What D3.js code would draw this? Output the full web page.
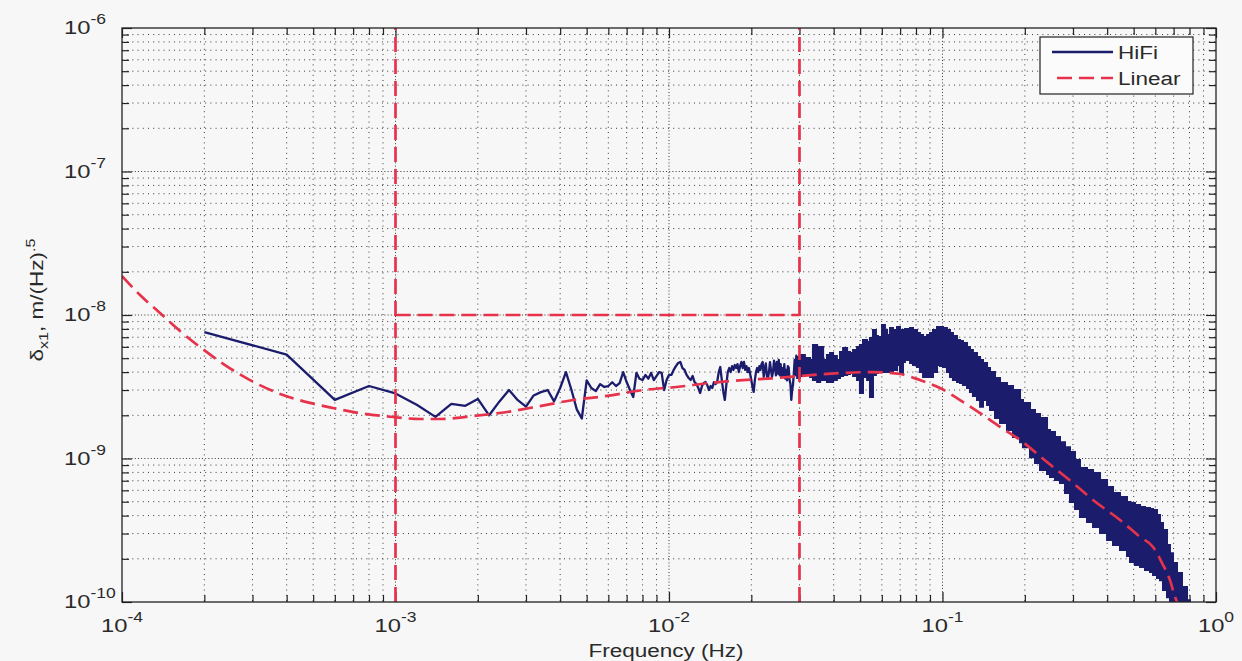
<!DOCTYPE html>
<html><head><meta charset="utf-8">
<script src="https://cdn.jsdelivr.net/npm/d3@7"></script>
<style>
body{margin:0;background:#f7f7f7;}
text{font-family:Arial,"Liberation Sans",Helvetica,sans-serif;fill:#2a2a2a;}
</style>
</head><body>
<svg id="chart" width="1242" height="661"></svg>
<script>
// ---------------- data ----------------
const xTickExponents = [-4, -3, -2, -1, 0];
const yTickExponents = [-10, -9, -8, -7, -6];
const xTitle = "Frequency (Hz)";
const seriesNames = ["HiFi", "Linear"];

// HiFi spectrum (sparse / medium-density part)
const hifiFreq = [
 0.0002,0.0004,0.0006,0.0008,0.0010,0.0012,0.0014,0.0016,0.0018,0.0020,
 0.0022,0.0024,0.0026,0.0028,0.0030,0.0032,0.0034,0.0036,0.0038,0.0040,
 0.0042,0.0044,0.0046,0.0048,0.0050,0.0052,0.0054,0.0056,0.0058,0.0060,
 0.0062,0.0064,0.0066,0.0068,0.0070,0.0072,0.0074,0.0076,0.0078,0.0080,
 0.0082,0.0084,0.0086,0.0088,0.0090,0.0092,0.0094,0.0096,0.0098,0.0100,
 0.0102,0.0104,0.0106,0.0108,0.0110,0.0112,0.0114,0.0116,0.0118,0.0120,
 0.0122,0.0124,0.0126,0.0128,0.0130,0.0132,0.0134,0.0136,0.0138,0.0140,
 0.0142,0.0144,0.0146,0.0148,0.0150,0.0152,0.0154,0.0156,0.0158,0.0160,
 0.0162,0.0164,0.0166,0.0168,0.0170,0.0172,0.0174,0.0176,0.0178,0.0180,
 0.0182,0.0184,0.0186,0.0188,0.0190,0.0192,0.0194,0.0196,0.0198,0.0200,
 0.0202,0.0204,0.0206,0.0208,0.0210,0.0212,0.0214,0.0216,0.0218,0.0220,
 0.0222,0.0224,0.0226,0.0228,0.0230,0.0232,0.0234,0.0236,0.0238,0.0240,
 0.0242,0.0244,0.0246,0.0248,0.0250,0.0252,0.0254,0.0256,0.0258,0.0260,
 0.0262,0.0264,0.0266,0.0268,0.0270,0.0272,0.0274,0.0276,0.0278,0.0280,
 0.0282,0.0284,0.0286,0.0288,0.0290,0.0292
];
const hifiValue = [
 7.6e-9,5.3e-9,2.56e-9,3.2e-9,2.84e-9,2.36e-9,1.95e-9,2.4e-9,2.33e-9,2.6e-9,
 2.0e-9,2.5e-9,3.0e-9,2.55e-9,2.3e-9,2.75e-9,2.9e-9,3.0e-9,2.5e-9,3.1e-9,
 4.0e-9,3.0e-9,2.2e-9,1.9e-9,3.5e-9,3.1e-9,2.95e-9,3.3e-9,3.15e-9,3.2e-9,
 3.4e-9,3.2e-9,3.35e-9,4.0e-9,3.41e-9,3.0e-9,2.68e-9,3.95e-9,3.6e-9,3.52e-9,
 3.82e-9,3.6e-9,3.95e-9,3.52e-9,3.75e-9,4.0e-9,3.95e-9,3.0e-9,3.52e-9,3.82e-9,
 3.82e-9,4.14e-9,4.4e-9,4.63e-9,4.71e-9,4.27e-9,4.14e-9,3.82e-9,3.64e-9,3.52e-9,
 3.76e-9,3.41e-9,3.3e-9,3.1e-9,2.86e-9,3.2e-9,3.36e-9,3.41e-9,3.25e-9,3.0e-9,
 3.2e-9,3.1e-9,3.41e-9,3.3e-9,3.41e-9,4.0e-9,4.34e-9,3.52e-9,2.91e-9,2.56e-9,
 3.25e-9,4.0e-9,4.27e-9,4.0e-9,4.4e-9,4.14e-9,4.48e-9,4.27e-9,4.55e-9,4.0e-9,
 4.4e-9,4.71e-9,4.27e-9,4.71e-9,4.14e-9,4.4e-9,4.0e-9,4.27e-9,3.88e-9,3.52e-9,
 3.15e-9,2.91e-9,3.52e-9,4.0e-9,4.27e-9,4.0e-9,4.4e-9,4.14e-9,4.55e-9,4.71e-9,
 3.7e-9,4.27e-9,4.6e-9,3.76e-9,3.6e-9,4.0e-9,4.7e-9,4.14e-9,3.7e-9,4.0e-9,
 4.8e-9,4.4e-9,3.8e-9,4.71e-9,3.9e-9,4.86e-9,3.8e-9,4.55e-9,3.7e-9,4.27e-9,
 3.8e-9,4.55e-9,3.6e-9,4.14e-9,3.5e-9,4.4e-9,4.3e-9,3.52e-9,3.3e-9,2.56e-9,
 3.0e-9,3.25e-9,3.9e-9,4.86e-9,3.8e-9,5.2e-9
];

// HiFi spectrum, dense part (too dense to resolve single points): upper / lower envelope
const bandFreq = [
 0.0294,0.0301,0.0314,0.0328,0.0336,0.0348,0.0357,0.0366,0.0378,0.0388,
 0.0398,0.0411,0.0422,0.0433,0.0448,0.0459,0.0471,0.0487,0.0499,0.0512,
 0.0530,0.0543,0.0557,0.0571,0.0581,0.0601,0.0616,0.0627,0.0643,0.0659,
 0.0682,0.0699,0.0717,0.0729,0.0761,0.0780,0.0807,0.0827,0.0849,0.0878,
 0.0900,0.0923,0.0955,0.0979,0.1004,0.1038,0.1065,0.1092,0.1130,0.1159,
 0.1188,0.1229,0.1260,0.1292,0.1337,0.1372,0.1406,0.1455,0.1492,0.1556,
 0.1623,0.1721,0.1810,0.1921,0.1969,0.2089,0.2179,0.2273,0.2411,0.2472,
 0.2578,0.2689,0.2805,0.2925,0.3051,0.3182,0.3376,0.3551,0.3767,0.3996,
 0.4202,0.4457,0.4727,0.4848,0.5055,0.5275,0.5500,0.5737,0.5886,0.6085,
 0.6240,0.6400,0.6620,0.6787,0.6962,0.7202,0.7511,0.7834,0.8035
];
const bandHigh = [
 5.10e-9,5.26e-9,5.02e-9,4.86e-9,6.18e-9,5.98e-9,5.98e-9,4.86e-9,5.26e-9,5.44e-9,
 5.18e-9,4.86e-9,5.52e-9,5.89e-9,5.52e-9,5.44e-9,5.70e-9,5.98e-9,6.18e-9,6.70e-9,
 6.48e-9,6.91e-9,7.86e-9,7.14e-9,7.03e-9,8.52e-9,7.86e-9,7.25e-9,8.12e-9,7.86e-9,
 8.25e-9,7.86e-9,7.86e-9,7.99e-9,8.12e-9,7.86e-9,7.49e-9,7.25e-9,7.03e-9,7.25e-9,
 7.49e-9,7.86e-9,8.25e-9,8.25e-9,8.12e-9,7.86e-9,7.49e-9,7.14e-9,6.70e-9,6.59e-9,
 6.38e-9,5.98e-9,5.70e-9,5.44e-9,5.10e-9,4.86e-9,4.63e-9,4.27e-9,4.0e-9,3.64e-9,
 3.36e-9,3.20e-9,3.0e-9,2.56e-9,2.44e-9,2.18e-9,2.04e-9,1.915e-9,1.58e-9,1.53e-9,
 1.41e-9,1.30e-9,1.20e-9,1.11e-9,9.76e-10,8.59e-10,8.32e-10,7.93e-10,7.08e-10,6.33e-10,
 5.75e-10,5.39e-10,4.98e-10,4.90e-10,4.74e-10,4.59e-10,4.52e-10,4.45e-10,4.38e-10,4.04e-10,
 3.55e-10,3.17e-10,2.50e-10,2.19e-10,1.87e-10,1.59e-10,1.27e-10,1.03e-10,8.8e-11
];
const bandLow = [
 3.64e-9,3.76e-9,3.88e-9,3.70e-9,3.52e-9,3.41e-9,3.52e-9,3.52e-9,3.41e-9,3.41e-9,
 3.52e-9,3.64e-9,3.76e-9,3.82e-9,3.88e-9,3.94e-9,3.76e-9,3.52e-9,2.86e-9,3.70e-9,
 3.52e-9,2.68e-9,3.82e-9,3.94e-9,4.0e-9,4.0e-9,4.0e-9,4.0e-9,4.0e-9,4.14e-9,
 4.48e-9,3.94e-9,4.71e-9,4.86e-9,4.63e-9,4.48e-9,4.34e-9,4.0e-9,3.70e-9,3.70e-9,
 3.70e-9,4.0e-9,4.48e-9,4.41e-9,4.34e-9,4.0e-9,3.70e-9,3.52e-9,3.41e-9,3.36e-9,
 3.25e-9,3.10e-9,2.91e-9,2.73e-9,2.56e-9,2.29e-9,2.56e-9,2.36e-9,2.18e-9,1.915e-9,
 1.768e-9,1.58e-9,1.41e-9,1.30e-9,1.20e-9,1.02e-9,9.30e-10,8.32e-10,7.80e-10,7.43e-10,
 7.08e-10,6.75e-10,5.75e-10,4.98e-10,4.45e-10,3.91e-10,3.61e-10,3.33e-10,3.02e-10,2.70e-10,
 2.50e-10,2.30e-10,2.09e-10,1.90e-10,1.81e-10,1.75e-10,1.67e-10,1.62e-10,1.54e-10,1.47e-10,
 1.42e-10,1.21e-10,1.08e-10,9.85e-11,8.8e-11,8.0e-11,7.3e-11,6.8e-11,6.2e-11
];

// Linear model
const linearFreq = [
 1.0e-4,1.164e-4,1.377e-4,1.630e-4,1.929e-4,2.380e-4,2.938e-4,3.879e-4,4.868e-4,5.907e-4,
 7.418e-4,9.79e-4,1.229e-3,1.454e-3,1.920e-3,2.557e-3,3.376e-3,4.457e-3,5.934e-3,8.04e-3,
 1.067e-2,1.412e-2,1.865e-2,2.483e-2,3.013e-2,4.22e-2,5.57e-2,6.99e-2,8.27e-2,9.79e-2,
 0.1159,0.1372,0.1623,0.1921,0.2411,0.3001,0.3551,0.4457,0.5275,0.5886,
 0.6348,0.6787,0.7082,0.7202,0.735
];
const linearValue = [
 1.87e-8,1.378e-8,1.033e-8,7.73e-9,5.98e-9,4.48e-9,3.52e-9,2.77e-9,2.44e-9,2.25e-9,
 2.07e-9,1.946e-9,1.885e-9,1.885e-9,1.977e-9,2.11e-9,2.32e-9,2.556e-9,2.73e-9,3.0e-9,
 3.15e-9,3.36e-9,3.52e-9,3.64e-9,3.76e-9,3.94e-9,4.0e-9,3.88e-9,3.52e-9,3.10e-9,
 2.556e-9,2.07e-9,1.66e-9,1.346e-9,9.45e-10,6.75e-10,5.14e-10,3.73e-10,2.84e-10,2.42e-10,
 1.87e-10,1.42e-10,1.083e-10,1.0e-10,8.5e-11
];

// Linear band limits (frequency window and level)
const boundFreq = [1e-3, 3e-2];
const boundLevel = [1e-8];

// ---------------- chart ----------------
const svg = d3.select("#chart");
const M = {l:122, t:28, r:1216, b:602};
const x = d3.scaleLog().domain([1e-4, 1]).range([M.l, M.r]);
const y = d3.scaleLog().domain([1e-10, 1e-6]).range([M.b, M.t]);
const NAVY = "#1b1c6c", RED = "#e6334b";
const SX = 1.25; // horizontal stretch of the lettering seen in the reference

svg.append("rect").attr("width",1242).attr("height",661).attr("fill","#f7f7f7");

svg.append("defs").append("clipPath").attr("id","plotclip")
  .append("rect").attr("x",M.l).attr("y",M.t).attr("width",M.r-M.l).attr("height",M.b-M.t);

function logTicks(lo, hi){
  const out=[];
  for(let e=lo;e<hi;e++) for(let k=1;k<=9;k++) out.push(k*Math.pow(10,e));
  out.push(Math.pow(10,hi));
  return out;
}
const xAll = logTicks(-4,0), yAll = logTicks(-10,-6);
const isDecade = v => Math.abs(Math.log10(v)-Math.round(Math.log10(v)))<1e-9;

// grid
const grid = svg.append("g");
grid.selectAll(".gx").data(xAll.filter(v=>v>1e-4 && v<1)).join("line")
  .attr("x1",d=>x(d)).attr("x2",d=>x(d)).attr("y1",M.t).attr("y2",M.b)
  .attr("stroke","#3a3a3a").attr("stroke-width",1)
  .attr("stroke-dasharray",d=>isDecade(d)?"1,2.2":"1,4.2");
grid.selectAll(".gy").data(yAll.filter(v=>v>1e-10 && v<1e-6)).join("line")
  .attr("y1",d=>y(d)).attr("y2",d=>y(d)).attr("x1",M.l).attr("x2",M.r)
  .attr("stroke","#3a3a3a").attr("stroke-width",1)
  .attr("stroke-dasharray",d=>isDecade(d)?"1,2.2":"1,4.2");

// axes (inward ticks on all four sides)
function styleAxis(g){
  g.select(".domain").remove();
  g.selectAll("line").attr("stroke","#222").attr("stroke-width",1.2);
  g.selectAll("text").remove();
}
function addAxis(axisFn, scale, vals, transform){
  [10,7].forEach((len,i)=>{
    const sub = vals.filter(v=> i===0 ? isDecade(v) : !isDecade(v));
    const a = axisFn(scale).tickValues(sub).tickSizeInner(-len).tickSizeOuter(0).tickFormat("");
    svg.append("g").attr("transform",transform).call(a).call(styleAxis);
  });
}
addAxis(d3.axisBottom, x, xAll, `translate(0,${M.b})`);
addAxis(d3.axisTop, x, xAll, `translate(0,${M.t})`);
addAxis(d3.axisLeft, y, yAll, `translate(${M.l},0)`);
addAxis(d3.axisRight, y, yAll, `translate(${M.r},0)`);

// data layers
const plot = svg.append("g").attr("clip-path","url(#plotclip)");

const hifi = hifiFreq.map((f,i)=>[f,hifiValue[i]]);
const band = bandFreq.map((f,i)=>({f, hi:bandHigh[i], lo:bandLow[i]}));

plot.append("path").datum(band)
  .attr("d", d3.area().curve(d3.curveStepAfter).x(d=>x(d.f)).y0(d=>y(d.lo)).y1(d=>y(d.hi)))
  .attr("fill",NAVY).attr("stroke",NAVY).attr("stroke-width",2).attr("stroke-linejoin","miter");

plot.append("path").datum(hifi.concat([[band[0].f,(band[0].hi+band[0].lo)/2]]))
  .attr("d", d3.line().x(d=>x(d[0])).y(d=>y(d[1])))
  .attr("fill","none").attr("stroke",NAVY).attr("stroke-width",2.3).attr("stroke-linejoin","round");

const lin = linearFreq.map((f,i)=>[f,linearValue[i]]);
const dash = "15,7";
plot.append("path").datum(lin)
  .attr("d", d3.line().curve(d3.curveMonotoneX).x(d=>x(d[0])).y(d=>y(d[1])))
  .attr("fill","none").attr("stroke",RED).attr("stroke-width",2.7).attr("stroke-dasharray",dash);

// bound lines
plot.selectAll(".bv").data(boundFreq).join("line")
  .attr("x1",d=>x(d)).attr("x2",d=>x(d)).attr("y1",y(1e-10)).attr("y2",y(1e-6))
  .attr("stroke",RED).attr("stroke-width",2.7).attr("stroke-dasharray",dash);
plot.selectAll(".bh").data(boundLevel).join("line")
  .attr("x1",x(boundFreq[0])).attr("x2",x(boundFreq[1])).attr("y1",d=>y(d)).attr("y2",d=>y(d))
  .attr("stroke",RED).attr("stroke-width",2.7).attr("stroke-dasharray",dash);

// frame
svg.append("rect").attr("x",M.l).attr("y",M.t).attr("width",M.r-M.l).attr("height",M.b-M.t)
  .attr("fill","none").attr("stroke","#222").attr("stroke-width",1.3);

// text helper: stretched horizontally
function stext(px, py, anchor, size, rot){
  const g = svg.append("g").attr("transform",`translate(${px},${py})${rot?` rotate(${rot})`:""} scale(${SX},1)`);
  return g.append("text").attr("x",0).attr("y",0).attr("text-anchor",anchor).attr("font-size",size);
}

// tick labels
xTickExponents.forEach(e=>{
  const t = stext(x(Math.pow(10,e)), 632, "middle", 19);
  t.append("tspan").text("10");
  t.append("tspan").attr("dy",-10).attr("font-size",14).text(String(e));
});
yTickExponents.forEach(e=>{
  const t = stext(64, y(Math.pow(10,e))+6, "start", 19);
  t.append("tspan").text("10");
  t.append("tspan").attr("dy",-10).attr("font-size",14).text(String(e));
});

// axis titles
stext(666, 657, "middle", 18).text(xTitle);
const yt = stext(43, 300, "middle", 18, -90);
yt.append("tspan").text("δ");
yt.append("tspan").attr("dy",5).attr("font-size",13).text("x1");
yt.append("tspan").attr("dy",-5).text(", m/(Hz)");
yt.append("tspan").attr("dy",-8).attr("font-size",13).text(".5");

// legend
const lg = svg.append("g");
lg.append("rect").attr("x",1040).attr("y",37).attr("width",153).attr("height",57)
  .attr("fill","#fbfbfb").attr("stroke","#222").attr("stroke-width",1.2);
lg.append("line").attr("x1",1052).attr("x2",1113).attr("y1",52).attr("y2",52)
  .attr("stroke",NAVY).attr("stroke-width",2.3);
lg.append("line").attr("x1",1057).attr("x2",1113).attr("y1",78).attr("y2",78)
  .attr("stroke",RED).attr("stroke-width",2.7).attr("stroke-dasharray","15,7");
stext(1118, 59, "start", 18).text(seriesNames[0]);
stext(1118, 85, "start", 18).text(seriesNames[1]);
</script>
</body></html>
